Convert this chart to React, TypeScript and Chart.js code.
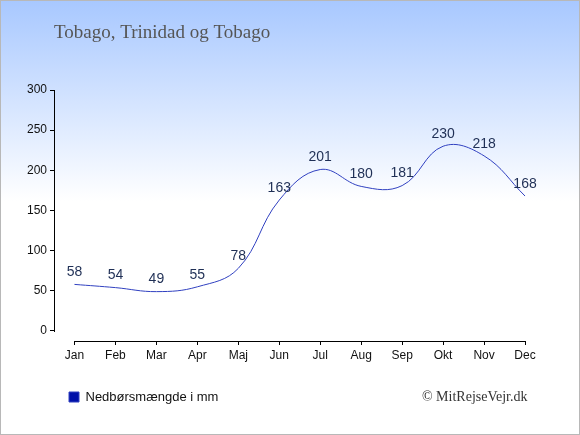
import { useEffect, useRef } from "react";
import { Chart, registerables } from "chart.js";

Chart.register(...registerables);

const months = ["Jan", "Feb", "Mar", "Apr", "Maj", "Jun", "Jul", "Aug", "Sep", "Okt", "Nov", "Dec"];
const rainfall = [58, 54, 49, 55, 78, 163, 201, 180, 181, 230, 218, 168];
const yTicks = [0, 50, 100, 150, 200, 250, 300];
const titleText = "Tobago, Trinidad og Tobago";
const seriesLabel = "Nedbørsmængde i mm";
const creditText = "© MitRejseVejr.dk";

const axisLines = {
  id: "axisLines",
  afterDraw(chart: any) {
    const { ctx, chartArea, scales } = chart;
    const x = scales.x;
    const y = scales.y;
    ctx.save();
    ctx.strokeStyle = "#000";
    ctx.lineWidth = 1;
    const xl = Math.round(chartArea.left) + 0.5;
    ctx.beginPath();
    ctx.moveTo(xl, y.getPixelForValue(yTicks[yTicks.length - 1]));
    ctx.lineTo(xl, y.getPixelForValue(yTicks[0]) + 1);
    ctx.stroke();
    const yb = Math.round(chartArea.bottom) + 0.5;
    ctx.beginPath();
    ctx.moveTo(x.getPixelForValue(0), yb);
    ctx.lineTo(x.getPixelForValue(months.length - 1), yb);
    ctx.stroke();
    ctx.restore();
  },
};

const valueLabels = {
  id: "valueLabels",
  afterDatasetsDraw(chart: any) {
    const { ctx } = chart;
    const meta = chart.getDatasetMeta(0);
    ctx.save();
    ctx.font = "14px 'Liberation Sans', Arial, sans-serif";
    ctx.fillStyle = "#1f2f55";
    ctx.textAlign = "center";
    ctx.textBaseline = "middle";
    meta.data.forEach((el: any, i: number) => {
      ctx.fillText(String(rainfall[i]), el.x, el.y - 12);
    });
    ctx.restore();
  },
};

const credit = {
  id: "credit",
  afterDraw(chart: any) {
    const { ctx, chartArea } = chart;
    ctx.save();
    ctx.font = "14px 'Liberation Serif', 'Times New Roman', serif";
    ctx.fillStyle = "#333";
    ctx.textAlign = "right";
    ctx.textBaseline = "middle";
    ctx.fillText(creditText, chartArea.right - 18, 396);
    ctx.restore();
  },
};

export default function App() {
  const ref = useRef<HTMLCanvasElement | null>(null);

  useEffect(() => {
    document.body.style.margin = "0";
    if (!ref.current) return;
    const chart = new Chart(ref.current, {
      type: "line",
      data: {
        labels: months,
        datasets: [
          {
            label: seriesLabel,
            data: rainfall,
            borderColor: "#3040c0",
            backgroundColor: "#0010a8",
            borderWidth: 1,
            pointRadius: 0,
            tension: 0.4,
            fill: false,
          },
        ],
      },
      options: {
        animation: false,
        responsive: false,
        layout: { padding: { left: 0, right: 33.5, top: 0, bottom: 20.5 } },
        plugins: {
          title: {
            display: true,
            fullSize: false,
            text: titleText,
            align: "start",
            color: "#555",
            font: { family: "'Liberation Serif', 'Times New Roman', serif", size: 19, weight: "normal" },
            padding: { top: 21, bottom: 45.2 },
          },
          legend: {
            display: true,
            fullSize: false,
            position: "bottom",
            align: "start",
            labels: {
              boxWidth: 10,
              boxHeight: 10,
              padding: 15,
              color: "#111",
              font: { family: "'Liberation Sans', Arial, sans-serif", size: 13 },
            },
          },
          tooltip: { enabled: false },
        },
        scales: {
          x: {
            type: "category",
            offset: true,
            border: { display: false },
            grid: { display: true, drawOnChartArea: false, drawTicks: true, tickLength: 4, color: "#000", offset: false },
            ticks: {
              color: "#111",
              padding: 3,
              autoSkip: false,
              maxRotation: 0,
              font: { family: "'Liberation Sans', Arial, sans-serif", size: 12 },
            },
            afterFit: (s: any) => {
              s.height = 34.5;
            },
          },
          y: {
            min: -12.45,
            max: 300,
            border: { display: false },
            grid: { display: true, drawOnChartArea: false, drawTicks: true, tickLength: 4, color: "#000" },
            ticks: {
              color: "#111",
              padding: 3,
              font: { family: "'Liberation Sans', Arial, sans-serif", size: 12 },
            },
            afterBuildTicks: (s: any) => {
              s.ticks = yTicks.map((v) => ({ value: v }));
            },
            afterFit: (s: any) => {
              s.width = 53;
            },
          },
        },
      },
      plugins: [axisLines, valueLabels, credit],
    });
    return () => chart.destroy();
  }, []);

  return (
    <div
      style={{
        width: 580,
        height: 435,
        boxSizing: "border-box",
        border: "1px solid #b8b8b8",
        background: "linear-gradient(to bottom, #a8c8ff 0px, #ffffff 200px, #ffffff 100%)",
        position: "relative",
        overflow: "hidden",
      }}
    >
      <canvas ref={ref} width={578} height={433} style={{ display: "block", width: 578, height: 433 }} />
    </div>
  );
}
